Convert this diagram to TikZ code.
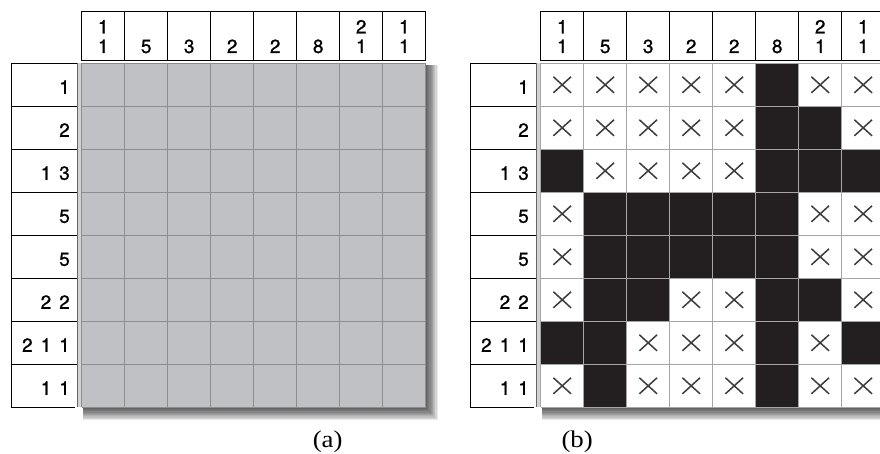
\documentclass[tikz,border=0pt]{standalone}
\usepackage{fontspec}
\usepackage{graphicx}
\setmainfont{Liberation Serif}
\newfontfamily\cluefont[FakeBold=1]{TeX Gyre Heros}
\definecolor{cellgray}{HTML}{C0C1C5}
\definecolor{gridgray}{HTML}{8E8E90}
\definecolor{lightgrid}{HTML}{A6A6A6}
\definecolor{ink}{HTML}{231F20}
\definecolor{crossc}{HTML}{3C3C3C}
\tikzset{
  clue/.style={font=\cluefont\fontsize{19}{21}\selectfont, inner sep=0pt, text=black},
  captext/.style={font=\fontsize{24}{26}\selectfont, inner sep=0pt},
  boxline/.style={draw=black, line width=0.9pt},
  gridline/.style={draw=gridgray, line width=0.9pt},
  sgridline/.style={draw=lightgrid, line width=0.9pt},
  blackcell/.style={fill=ink},
  crossmark/.style={draw=crossc, line width=1.5pt},
}
\newcommand\sep{\hspace{8pt}}
\begin{document}
\begin{tikzpicture}[x=1pt,y=-1pt]
\useasboundingbox (0,0) rectangle (880,454);
\clip (0,0) rectangle (880,454);
\fill[white] (0,0) rectangle (880,454);
% ---------- two panels ----------
\foreach \panel/\dx in {0/0,1/459}{
\begin{scope}[xshift=\dx pt]
  % shadow
  \foreach \r in {1,...,10}{
    \fill[black,opacity=0.085] (83,65) rectangle (425.7+1.2*\r,407.3+1.3*\r);
  }
  % grid background
  \ifnum\panel=0
    \fill[cellgray] (81.7,63.3) rectangle (425.7,407.3);
  \else
    \fill[white] (81.7,63.3) rectangle (425.7,407.3);
  \fi
  % header box
  \draw[boxline] (81.7,11.7) rectangle (425.7,60.3);
  \foreach \k in {1,...,7}{
    \draw[boxline] (81.7+43*\k,11.7) -- (81.7+43*\k,60.3);
  }
  % row clue box
  \draw[boxline] (11.7,63.3) -- (11.7,407.3) -- (75,407.3);
  \foreach \k in {0,...,7}{
    \draw[boxline] (11.7,63.3+43*\k) -- (76.7,63.3+43*\k);
  }
  \fill[gray!35] (77.5,63.3) rectangle (81.2,407.3);
  \draw[draw=gray!80!black, line width=1.4pt] (77.3,63.3) -- (77.3,407.3);
\end{scope}
}
% ---------- solution cells (panel b) ----------
\begin{scope}[xshift=459pt]
  \foreach \row [count=\i] in {
    {X,X,X,X,X,B,X,X},
    {X,X,X,X,X,B,B,X},
    {B,X,X,X,X,B,B,B},
    {X,B,B,B,B,B,X,X},
    {X,B,B,B,B,B,X,X},
    {X,B,B,X,X,B,B,X},
    {B,B,X,X,X,B,X,B},
    {X,B,X,X,X,B,X,X}}{
    \foreach \c [count=\j] in \row {
      \pgfmathsetmacro\cx{81.7+43*(\j-0.5)}
      \pgfmathsetmacro\cy{63.3+43*(\i-0.5)}
      \if\c B
        \fill[blackcell] (\cx-21.5,\cy-21.5) rectangle (\cx+21.5,\cy+21.5);
      \else
        \draw[crossmark] (\cx-8.8,\cy-8) -- (\cx+8.8,\cy+8)
                         (\cx-8.8,\cy+8) -- (\cx+8.8,\cy-8);
      \fi
    }
  }
  \foreach \k in {0,...,8}{
    \draw[sgridline] (81.7+43*\k,63.3) -- (81.7+43*\k,407.3);
    \draw[sgridline] (81.7,63.3+43*\k) -- (425.7,63.3+43*\k);
  }
\end{scope}
% grid lines panel a
\foreach \k in {0,...,8}{
  \draw[gridline] (81.7+43*\k,63.3) -- (81.7+43*\k,407.3);
  \draw[gridline] (81.7,63.3+43*\k) -- (425.7,63.3+43*\k);
}
% ---------- clues ----------
\foreach \dx/\p in {0/a,459/b}{
  \foreach \top/\bot [count=\j] in {1/1,/5,/3,/2,/2,/8,2/1,1/1}{
    \node[clue, anchor=base] (\p top\j) at (\dx+81.7+43*\j-21.5,33.5) {\top};
    \node[clue, anchor=base] (\p bot\j) at (\dx+81.7+43*\j-21.5,53) {\bot};
  }
  \foreach \t [count=\i] in {1,2,1\sep3,5,5,2\sep2,2\sep1\sep1,1\sep1}{
    \node[clue, anchor=base east] (\p row\i) at (\dx+70,63.3+43*\i-21.5+9) {\t};
  }
}
% ---------- captions ----------
\node[captext, anchor=base] (capa) at (327.7,447) {\scalebox{1.12}[1]{(a)}};
\node[captext, anchor=base] (capb) at (577.2,447) {\scalebox{1.12}[1]{(b)}};
\end{tikzpicture}
\end{document}
